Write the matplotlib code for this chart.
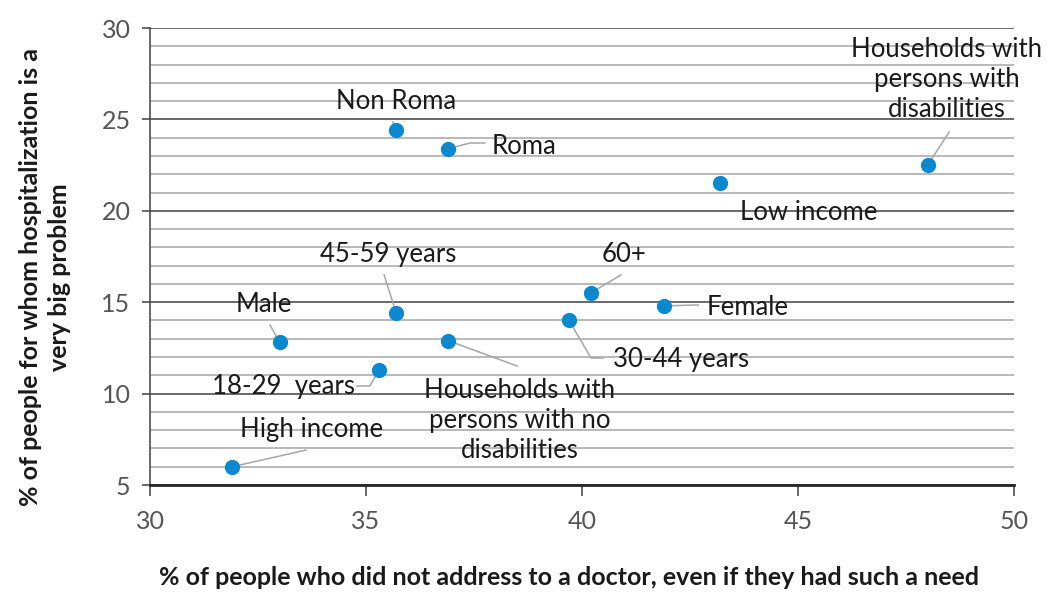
import matplotlib
matplotlib.use('Agg')
import matplotlib.pyplot as plt
from matplotlib.ticker import MultipleLocator

plt.rcParams['font.family'] = ['Lato', 'DejaVu Sans']

# данные точек
labels = ['Non Roma', 'Roma', 'Households with\npersons with\ndisabilities', 'Low income',
          '60+', 'Female', '30-44 years', '45-59 years', 'Male', '18-29  years',
          'High income', 'Households with\npersons with no\ndisabilities']
no_doctor = [35.7, 36.9, 48.0, 43.2, 40.2, 41.9, 39.7, 35.7, 33.0, 35.3, 31.9, 36.9]
hospital = [24.4, 23.4, 22.5, 21.5, 15.5, 14.8, 14.0, 14.4, 12.8, 11.3, 6.0, 12.9]

# положение подписей и выносных линий
label_pos = [(35.69, 26.0, 'center'), (37.9, 23.5, 'left'), (48.45, 27.2, 'center'),
             (45.25, 19.9, 'center'), (40.97, 17.6, 'center'), (42.89, 14.7, 'left'),
             (40.72, 11.85, 'left'), (35.51, 17.6, 'center'), (32.64, 14.85, 'center'),
             (33.1, 10.4, 'center'), (33.73, 8.05, 'center'), (38.56, 8.55, 'center')]
leaders = [[(35.62, 24.86)], [(37.41, 23.71), (37.75, 23.71)], [(48.5, 24.31)],
           [], [(40.9, 16.49)], [(42.69, 14.85)], [(40.21, 11.95), (40.49, 11.95)],
           [(35.42, 16.49)], [(32.78, 13.75)], [(35.09, 10.42), (34.79, 10.42)],
           [(33.61, 6.91)], [(38.5, 11.51)]]

fig = plt.figure(figsize=(10.51, 5.92), dpi=100)
ax = fig.add_axes([0.1427, 0.1807, 0.8221, 0.772])

for x, y, pts in zip(no_doctor, hospital, leaders):
    if pts:
        xs = [x] + [p[0] for p in pts]
        ys = [y] + [p[1] for p in pts]
        ax.plot(xs, ys, color='#A6A6A6', lw=1.1, zorder=2)

ax.scatter(no_doctor, hospital, s=120, color='#0A88D0', zorder=3, linewidths=0)

for lab, (lx, ly, ha) in zip(labels, label_pos):
    ax.text(lx, ly, lab, ha=ha, va='center', fontsize=18.5, color='#1a1a1a',
            linespacing=1.25, zorder=4)

ax.set_xlim(30, 50)
ax.set_ylim(5, 30)
ax.xaxis.set_major_locator(MultipleLocator(5))
ax.yaxis.set_major_locator(MultipleLocator(5))
ax.yaxis.set_minor_locator(MultipleLocator(1))
ax.grid(True, which='minor', axis='y', color='#A6A6A6', lw=1.1)
ax.grid(True, which='major', axis='y', color='#404040', lw=1.1)
ax.set_axisbelow(True)

for side in ['top', 'right']:
    ax.spines[side].set_visible(False)
ax.spines['left'].set_color('#404040')
ax.spines['left'].set_linewidth(1.1)
ax.spines['bottom'].set_color('#262626')
ax.spines['bottom'].set_linewidth(2)

ax.tick_params(axis='y', which='minor', length=0)
ax.tick_params(axis='y', which='major', length=6, width=1.1, color='#404040', pad=8)
ax.tick_params(axis='x', which='major', length=8, width=1.1, color='#404040', pad=10)
for t in ax.get_xticklabels() + ax.get_yticklabels():
    t.set_fontsize(18)
    t.set_color('#555555')

ax.set_xlabel('% of people who did not address to a doctor, even if they had such a need',
              fontsize=18, fontweight='bold', color='#1a1a1a', labelpad=24, x=0.485)
ax.set_ylabel('% of people for whom hospitalization is a\nvery big problem',
              fontsize=18, fontweight='bold', color='#1a1a1a', labelpad=22,
              linespacing=1.3, y=0.455)

fig.savefig('out.png', dpi=100)
